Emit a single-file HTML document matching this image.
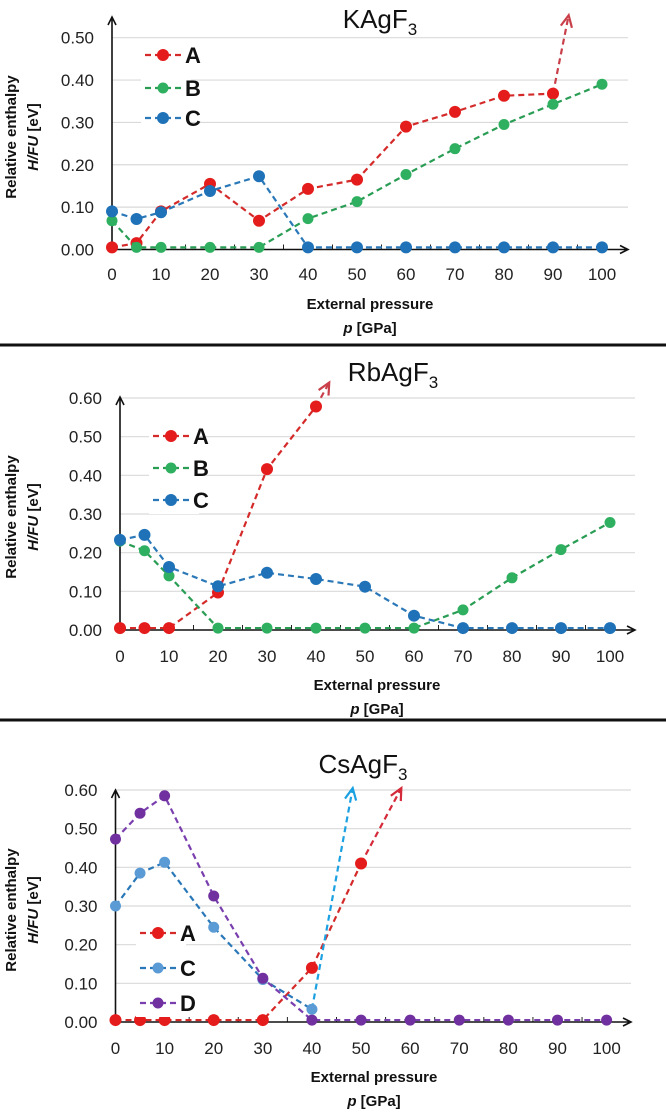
<!DOCTYPE html>
<html><head><meta charset="utf-8"><style>
html,body{margin:0;padding:0;background:#fff;}
svg{display:block;font-family:"Liberation Sans",Arial,sans-serif;}
</style></head><body>
<svg id="chart" width="666" height="1118" viewBox="0 0 666 1118" xmlns="http://www.w3.org/2000/svg"></svg>
<script>
// ---- data ----
const xTicks = [0,10,20,30,40,50,60,70,80,90,100];
const kTitle = "KAgF";
const kYTicks = [0,0.1,0.2,0.3,0.4,0.5];
const kAx = [0,5,10,20,30,40,50,60,70,80,90];
const kAy = [0.005,0.015,0.09,0.155,0.068,0.143,0.165,0.29,0.325,0.363,0.368];
const kAarrow = [93.2,0.553];
const kBx = [0,5,10,20,30,40,50,60,70,80,90,100];
const kBy = [0.068,0.005,0.005,0.005,0.005,0.073,0.113,0.177,0.238,0.295,0.343,0.39];
const kCx = [0,5,10,20,30,40,50,60,70,80,90,100];
const kCy = [0.09,0.072,0.088,0.138,0.173,0.005,0.005,0.005,0.005,0.005,0.005,0.005];

const rTitle = "RbAgF";
const rYTicks = [0,0.1,0.2,0.3,0.4,0.5,0.6];
const rAx = [0,5,10,20,30,40];
const rAy = [0.005,0.005,0.005,0.097,0.416,0.578];
const rAarrow = [42.7,0.64];
const rBx = [0,5,10,20,30,40,50,60,70,80,90,100];
const rBy = [0.23,0.205,0.14,0.005,0.005,0.005,0.005,0.005,0.052,0.135,0.208,0.278];
const rCx = [0,5,10,20,30,40,50,60,70,80,90,100];
const rCy = [0.233,0.246,0.163,0.113,0.148,0.132,0.112,0.037,0.005,0.005,0.005,0.005];

const cTitle = "CsAgF";
const cYTicks = [0,0.1,0.2,0.3,0.4,0.5,0.6];
const cAx = [0,5,10,20,30,40,50];
const cAy = [0.005,0.005,0.005,0.005,0.005,0.14,0.41];
const cAarrow = [58.2,0.605];
const cCx = [0,5,10,20,30,40];
const cCy = [0.30,0.385,0.413,0.245,0.11,0.033];
const cCarrow = [48.3,0.605];
const cDx = [0,5,10,20,30,40,50,60,70,80,90,100];
const cDy = [0.473,0.54,0.585,0.326,0.113,0.005,0.005,0.005,0.005,0.005,0.005,0.005];

const svg = document.getElementById('chart');
const NS = 'http://www.w3.org/2000/svg';
function mk(tag, attrs, parent){
  const e = document.createElementNS(NS, tag);
  for (const k in attrs) e.setAttribute(k, attrs[k]);
  (parent||svg).appendChild(e);
  return e;
}

function panel(o){
  const g = mk('g', {});
  
  
  const sx = v => o.x0 + (o.x1 - o.x0) * v / 100;
  const sy = v => o.y0 - (o.y0 - o.yTop) * v / o.yMax;
  // grid
  o.yTicks.forEach(t => {
    if (t > 0) {
      const l = mk('line', {x1: sx(0), x2: o.gridEnd, y1: sy(t), y2: sy(t), stroke:'#d9d9d9', 'stroke-width':1.2}, g);
      
      
    }
    const tx = mk('text', {x: sx(0) - 18, y: sy(t) + 6, 'text-anchor':'end', 'font-size':17, fill:'#222'}, g);
    tx.textContent = t.toFixed(2);
    
    
  });
  xTicks.forEach(t => {
    const tx = mk('text', {x: sx(t), y: o.tickY, 'text-anchor':'middle', 'font-size':17, fill:'#222'}, g);
    tx.textContent = t;
    
    
    if (t < 100) {
      const tk = mk('line', {x1: sx(t+5), x2: sx(t+5), y1: o.y0, y2: o.y0-5, stroke:'#222', 'stroke-width':1}, g);
      
      
    }
  });
  // axes
  const ax = mk('path', {d:`M${sx(0)} ${o.y0} V${o.axisTop} M${sx(0)-4} ${o.axisTop+8} L${sx(0)} ${o.axisTop} L${sx(0)+4} ${o.axisTop+8} M${sx(0)} ${o.y0} H${o.gridEnd} M${o.gridEnd-8} ${o.y0-4} L${o.gridEnd} ${o.y0} L${o.gridEnd-8} ${o.y0+4}`, stroke:'#111', 'stroke-width':1.6, fill:'none'}, g);
  
  
  // title
  const ti = mk('text', {x: o.titleX, y: o.titleY, 'text-anchor':'middle', 'font-size':26, fill:'#111'}, g);
  ti.textContent = o.title;
  const sub = mk('tspan', {'font-size':17, dy:7}, ti);
  sub.textContent = '3';
  
  
  // axis titles
  const yl = mk('text', {transform:`translate(${16},${o.yLabY}) rotate(-90)`, 'text-anchor':'middle', 'font-size':15, 'font-weight':'bold', fill:'#111'}, g);
  yl.textContent = 'Relative enthalpy';
  
  
  const yl2 = mk('text', {transform:`translate(${38},${o.yLabY}) rotate(-90)`, 'text-anchor':'middle', 'font-size':15, 'font-weight':'bold', fill:'#111'}, g);
  yl2.innerHTML = '<tspan font-style="italic">H/FU</tspan> [eV]';
  
  
  const xl = mk('text', {x: o.xLabX, y: o.xLabY, 'text-anchor':'middle', 'font-size':15, 'font-weight':'bold', fill:'#111'}, g);
  xl.textContent = 'External pressure';
  
  
  const xl2 = mk('text', {x: o.xLabX, y: o.xLabY + 24, 'text-anchor':'middle', 'font-size':15, 'font-weight':'bold', fill:'#111'}, g);
  xl2.innerHTML = '<tspan font-style="italic">p</tspan> [GPa]';
  
  
  // series
  o.series.forEach(s => {
    const sg = mk('g', {}, g);
    
    
    let d = s.xs.map((x,i) => (i ? 'L' : 'M') + sx(x) + ' ' + sy(s.ys[i])).join(' ');
    mk('path', {d, stroke:s.line, 'stroke-width':2.2, 'stroke-dasharray':'6 4', fill:'none'}, sg);
    if (s.arrow) {
      const lx = sx(s.xs[s.xs.length-1]), ly = sy(s.ys[s.ys.length-1]);
      const ax2 = sx(s.arrow[0]), ay2 = sy(s.arrow[1]);
      const ang = Math.atan2(ay2-ly, ax2-lx);
      const h = 13, w = 0.45;
      const p1 = [ax2 - h*Math.cos(ang-w), ay2 - h*Math.sin(ang-w)];
      const p2 = [ax2 - h*Math.cos(ang+w), ay2 - h*Math.sin(ang+w)];
      const ar = mk('path', {d:`M${lx} ${ly} L${ax2} ${ay2} M${p1[0]} ${p1[1]} L${ax2} ${ay2} L${p2[0]} ${p2[1]}`, stroke:s.arrowColor||s.line, 'stroke-width':2.2, 'stroke-dasharray':'', fill:'none'}, sg);
      
      
      ar.setAttribute('stroke-dasharray', '6 3');
      ar.setAttribute('stroke-dasharray', 'none');
      ar.setAttribute('d', `M${p1[0]} ${p1[1]} L${ax2} ${ay2} L${p2[0]} ${p2[1]}`);
      const ln = mk('path', {d:`M${lx} ${ly} L${ax2} ${ay2}`, stroke:s.arrowColor||s.line, 'stroke-width':2.2, 'stroke-dasharray':'6 4', fill:'none'}, sg);
      
      
    }
    s.xs.forEach((x,i) => {
      const c = mk('circle', {cx:sx(x), cy:sy(s.ys[i]), r:s.r, fill:s.marker}, sg);
      
      
    });
    // legend
    const lg = mk('g', {}, g);
    
    
    mk('rect', {x:o.legX-4, y:s.legY-14, width:50, height:28, fill:'#fff'}, lg);
    mk('line', {x1:o.legX, x2:o.legX+36, y1:s.legY, y2:s.legY, stroke:s.line, 'stroke-width':2.2, 'stroke-dasharray':'6 4'}, lg);
    mk('circle', {cx:o.legX+18, cy:s.legY, r:s.r, fill:s.marker}, lg);
    const lt = mk('text', {x:o.legX+40, y:s.legY+8, 'font-size':22, 'font-weight':'bold', fill:'#111'}, lg);
    lt.textContent = s.name;
  });
}

const RED = '#e41c1c', RLINE = '#d42a2a', GREEN = '#2fb060', GLINE = '#2a9d55', BLUE = '#1f72b8', LBLUE = '#5b9bd5', PURP = '#7030a0';

panel({id:'kagf3', title:kTitle, yTicks:kYTicks, yMax:0.5, x0:112, x1:602, y0:249.5, yTop:37.7, gridEnd:628, axisTop:17,
  titleX:380, titleY:28, tickY:280, xLabX:370, xLabY:309, yLabY:137, legX:145,
  series:[
    {name:'A', xs:kAx, ys:kAy, line:RLINE, marker:RED, r:6, legY:55, arrow:kAarrow, arrowColor:'#c9404a'},
    {name:'B', xs:kBx, ys:kBy, line:GLINE, marker:GREEN, r:5.5, legY:88},
    {name:'C', xs:kCx, ys:kCy, line:'#2a78b8', marker:BLUE, r:6, legY:118}
  ]});
panel({id:'rbagf3', title:rTitle, yTicks:rYTicks, yMax:0.6, x0:120, x1:610, y0:630, yTop:398, gridEnd:635, axisTop:397,
  titleX:393, titleY:381, tickY:662, xLabX:377, xLabY:690, yLabY:517, legX:153,
  series:[
    {name:'A', xs:rAx, ys:rAy, line:RLINE, marker:RED, r:6, legY:436, arrow:rAarrow, arrowColor:'#c9404a'},
    {name:'B', xs:rBx, ys:rBy, line:GLINE, marker:GREEN, r:5.5, legY:468},
    {name:'C', xs:rCx, ys:rCy, line:'#2a78b8', marker:BLUE, r:6, legY:500}
  ]});
panel({id:'csagf3', title:cTitle, yTicks:cYTicks, yMax:0.6, x0:115.5, x1:606.6, y0:1022, yTop:790, gridEnd:631, axisTop:790,
  titleX:363, titleY:773, tickY:1054, xLabX:374, xLabY:1082, yLabY:910, legX:140,
  series:[
    {name:'A', xs:cAx, ys:cAy, line:RLINE, marker:RED, r:6, legY:933, arrow:cAarrow, arrowColor:'#d42a3a'},
    {name:'C', xs:cCx, ys:cCy, line:'#2a78b8', marker:LBLUE, r:5.5, legY:968, arrow:cCarrow, arrowColor:'#1ba1e2'},
    {name:'D', xs:cDx, ys:cDy, line:'#7a3fae', marker:PURP, r:5.5, legY:1003}
  ]});

// separators
[345, 720].forEach(y => {
  const s = mk('rect', {x:0, y:y-1.5, width:666, height:3, fill:'#111'});
  
  
});
</script>
</body></html>
